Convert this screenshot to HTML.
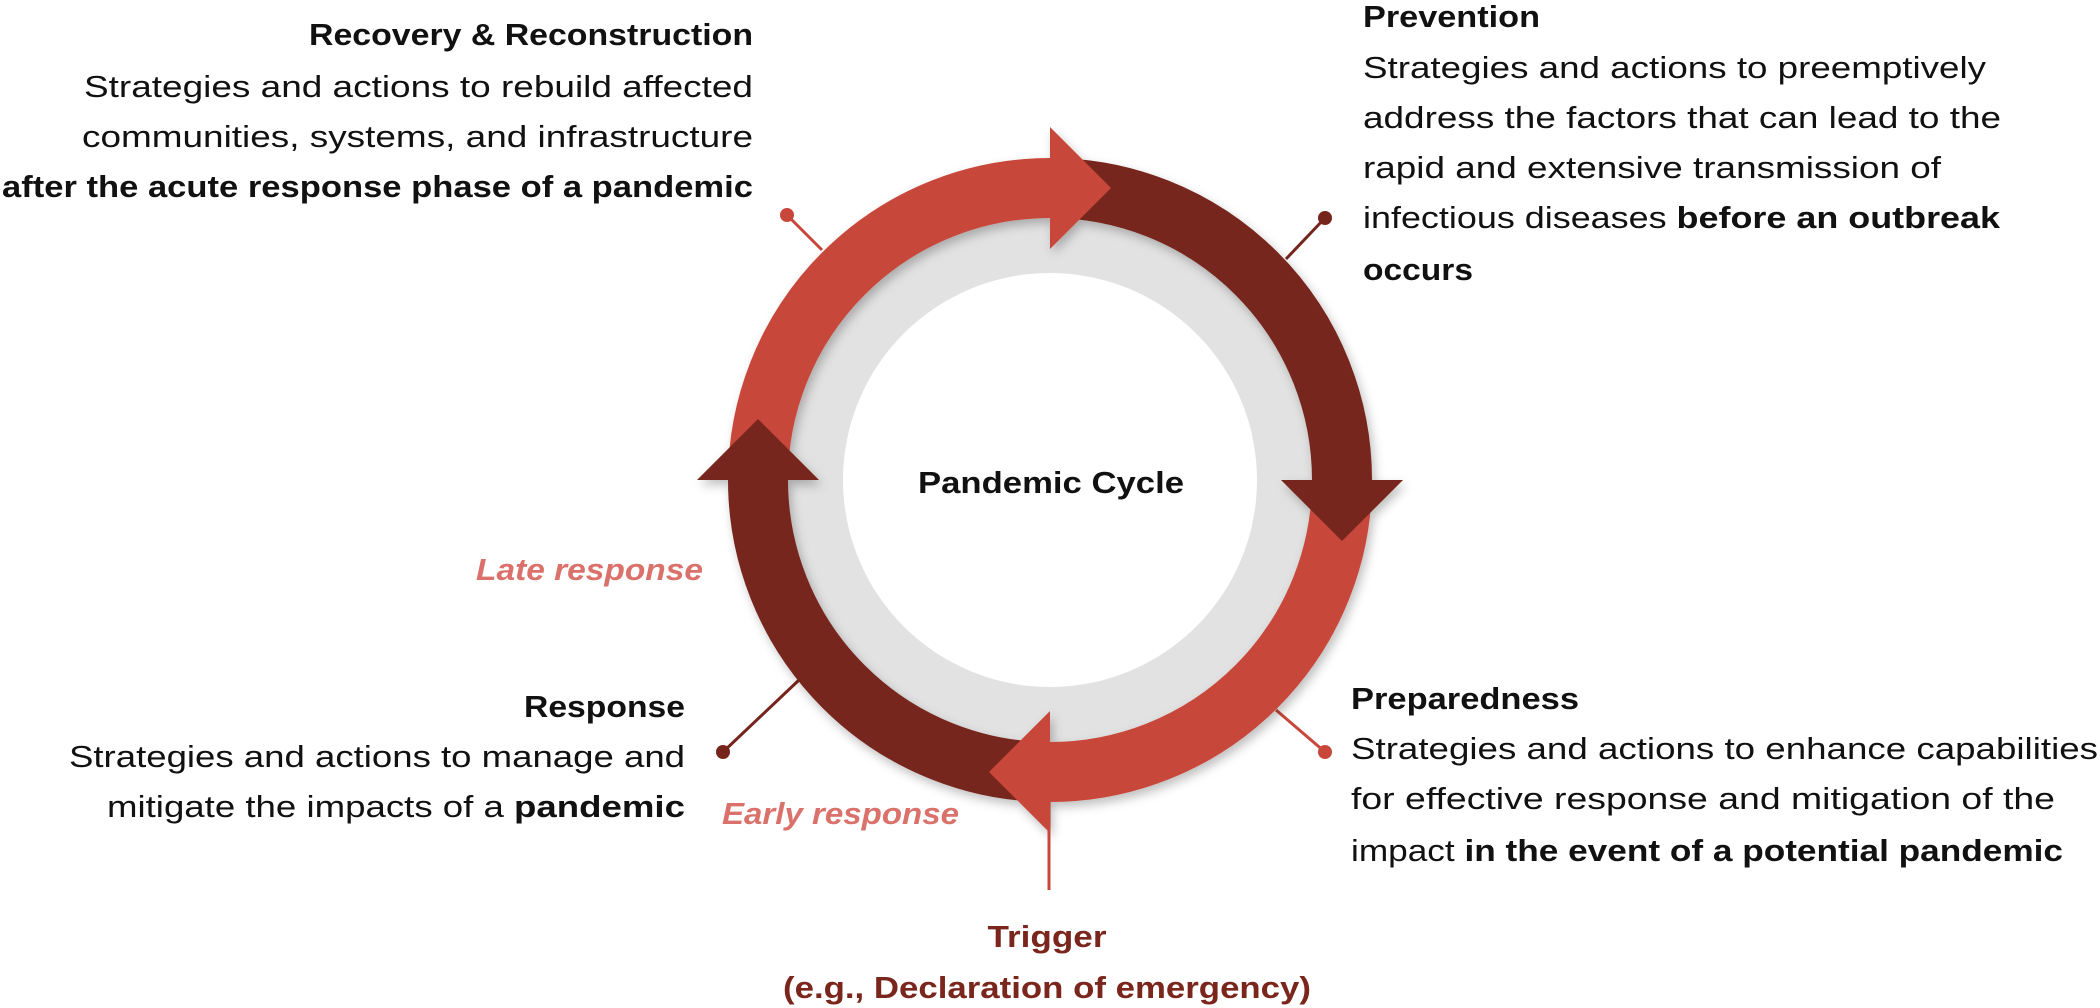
<!DOCTYPE html>
<html><head><meta charset="utf-8"><style>
html,body{margin:0;padding:0;background:#fff;}
svg{display:block;}
text{font-family:"Liberation Sans",sans-serif;font-size:31px;fill:#111;}
.b{font-weight:bold;}
</style></head><body>
<svg width="2100" height="1008" viewBox="0 0 2100 1008" xmlns="http://www.w3.org/2000/svg">
<defs>
<filter id="sh" x="-20%" y="-20%" width="140%" height="140%">
<feDropShadow dx="3" dy="5" stdDeviation="5" flood-color="#000" flood-opacity="0.25"/>
</filter>
</defs>
<!-- gray ring -->
<circle cx="1050" cy="480" r="265" fill="#e2e2e2"/>
<circle cx="1050" cy="480" r="207" fill="#fff"/>
<!-- connectors -->
<g stroke-width="3">
<line x1="787" y1="215" x2="822" y2="250" stroke="#c8473a"/>
<circle cx="787" cy="215" r="7" fill="#c8473a"/>
<line x1="1325" y1="218" x2="1286" y2="259" stroke="#76251d"/>
<circle cx="1325" cy="218" r="7" fill="#76251d"/>
<line x1="723" y1="752" x2="799" y2="680" stroke="#76251d"/>
<circle cx="723" cy="752" r="7" fill="#76251d"/>
<line x1="1325" y1="752" x2="1276" y2="710" stroke="#c8473a"/>
<circle cx="1325" cy="752" r="7" fill="#c8473a"/>
<line x1="1049" y1="800" x2="1049" y2="890" stroke="#c8473a"/>
</g>
<!-- arcs -->
<g filter="url(#sh)" fill="none" stroke-width="60">
<path d="M758,480 A292,292 0 0 1 1050,188" stroke="#c8473a"/>
<path d="M1050,188 A292,292 0 0 1 1342,480" stroke="#76251d"/>
<path d="M1342,480 A292,292 0 0 1 1050,772" stroke="#c8473a"/>
<path d="M1050,772 A292,292 0 0 1 758,480" stroke="#76251d"/>
<polygon points="1050,127 1050,249 1111,188" fill="#c8473a" stroke="none"/>
<polygon points="1281,480 1403,480 1342,541" fill="#76251d" stroke="none"/>
<polygon points="1050,711 1050,833 989,772" fill="#c8473a" stroke="none"/>
<polygon points="697,480 819,480 758,419" fill="#76251d" stroke="none"/>
</g>
<line x1="1049" y1="828" x2="1049" y2="890" stroke="#c8473a" stroke-width="3"/>
<text x="1051" y="493" text-anchor="middle" class="b" textLength="266" lengthAdjust="spacingAndGlyphs">Pandemic Cycle</text>

<!-- Recovery -->
<text x="753" y="45" text-anchor="end" class="b" textLength="444" lengthAdjust="spacingAndGlyphs">Recovery &amp; Reconstruction</text>
<text x="753" y="97" text-anchor="end" textLength="669" lengthAdjust="spacingAndGlyphs">Strategies and actions to rebuild affected</text>
<text x="753" y="147" text-anchor="end" textLength="671" lengthAdjust="spacingAndGlyphs">communities, systems, and infrastructure</text>
<text x="753" y="197" text-anchor="end" class="b" textLength="751" lengthAdjust="spacingAndGlyphs">after the acute response phase of a pandemic</text>

<!-- Prevention -->
<text x="1363" y="27" class="b" textLength="177" lengthAdjust="spacingAndGlyphs">Prevention</text>
<text x="1363" y="78" textLength="623" lengthAdjust="spacingAndGlyphs">Strategies and actions to preemptively</text>
<text x="1363" y="128" textLength="638" lengthAdjust="spacingAndGlyphs">address the factors that can lead to the</text>
<text x="1363" y="178" textLength="578" lengthAdjust="spacingAndGlyphs">rapid and extensive transmission of</text>
<text x="1363" y="228" textLength="637" lengthAdjust="spacingAndGlyphs">infectious diseases <tspan class="b">before an outbreak</tspan></text>
<text x="1363" y="280" class="b" textLength="110" lengthAdjust="spacingAndGlyphs">occurs</text>

<!-- Response -->
<text x="685" y="717" text-anchor="end" class="b" textLength="161" lengthAdjust="spacingAndGlyphs">Response</text>
<text x="685" y="767" text-anchor="end" textLength="616" lengthAdjust="spacingAndGlyphs">Strategies and actions to manage and</text>
<text x="685" y="817" text-anchor="end" textLength="578" lengthAdjust="spacingAndGlyphs">mitigate the impacts of a <tspan class="b">pandemic</tspan></text>

<text x="703" y="580" text-anchor="end" class="b" font-style="italic" style="fill:#da716b" textLength="227" lengthAdjust="spacingAndGlyphs">Late response</text>
<text x="722" y="824" class="b" font-style="italic" style="fill:#da716b" textLength="237" lengthAdjust="spacingAndGlyphs">Early response</text>

<!-- Preparedness -->
<text x="1351" y="709" class="b" textLength="228" lengthAdjust="spacingAndGlyphs">Preparedness</text>
<text x="1351" y="759" textLength="747" lengthAdjust="spacingAndGlyphs">Strategies and actions to enhance capabilities</text>
<text x="1351" y="809" textLength="704" lengthAdjust="spacingAndGlyphs">for effective response and mitigation of the</text>
<text x="1351" y="861" textLength="712" lengthAdjust="spacingAndGlyphs">impact <tspan class="b">in the event of a potential pandemic</tspan></text>

<!-- Trigger -->
<text x="1047" y="947" text-anchor="middle" class="b" style="fill:#7a261c" textLength="119" lengthAdjust="spacingAndGlyphs">Trigger</text>
<text x="1047" y="998" text-anchor="middle" class="b" style="fill:#7a261c" textLength="528" lengthAdjust="spacingAndGlyphs">(e.g., Declaration of emergency)</text>
</svg>
</body></html>
